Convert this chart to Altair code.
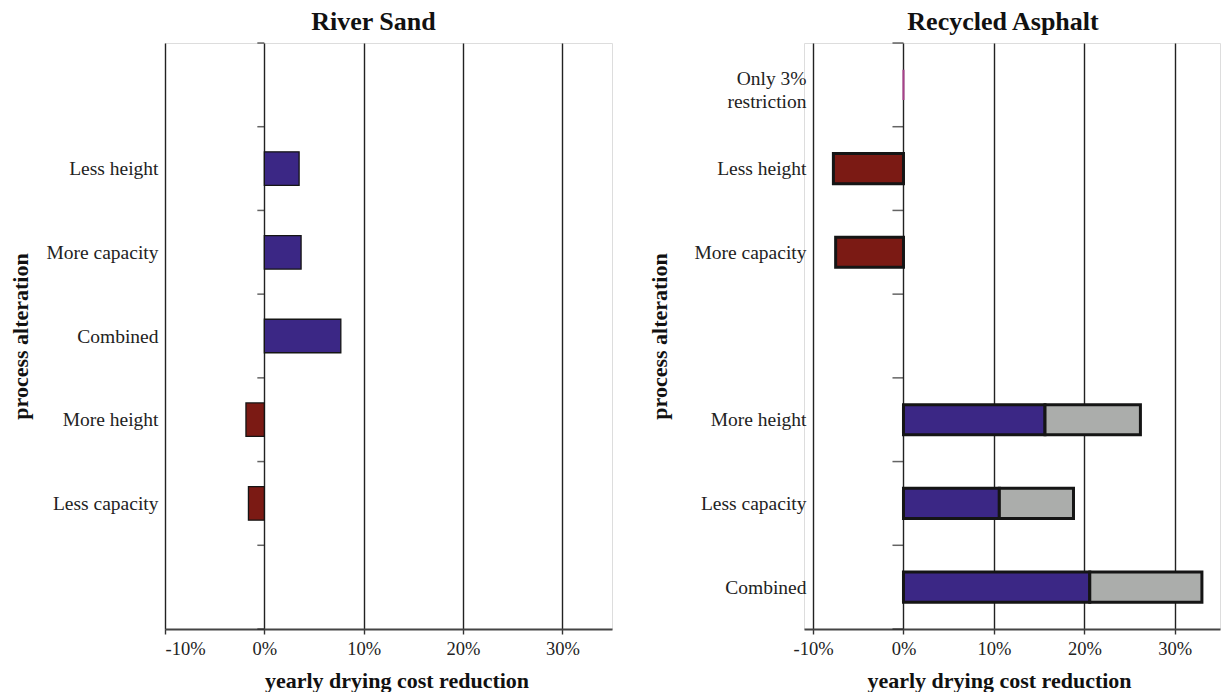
import altair as alt
import pandas as pd

FONT = "Liberation Serif"

# ---------------- data ----------------
x_ticks = [-10, 0, 10, 20, 30]
slot_bounds = [0, 1, 2, 3, 4, 5, 6, 7]

sand_labels = ["Less height", "More capacity", "Combined", "More height", "Less capacity"]
sand_slots = [1, 2, 3, 4, 5]
sand_values = [3.5, 3.7, 7.7, -1.85, -1.6]

asph_labels = ["Only 3%\nrestriction", "Less height", "More capacity",
               "More height", "Less capacity", "Combined"]
asph_slots = [0, 1, 2, 4, 5, 6]
asph_values = [0.0, -7.75, -7.5, 15.65, 10.6, 20.6]
asph_totals = [None, None, None, 26.2, 18.8, 33.0]

kinds = ["gain", "loss", "restriction", "none"]
fills = ["#3B2785", "#7B1A14", "#ABADAB", "#FFFFFF"]

MULTILINE_NUDGE = 0.08  # shift two-line labels up so the block is centred


def kind_of(v):
    if v > 0:
        return "gain"
    if v < 0:
        return "loss"
    return "none"


def bars_frame(slots, values, totals=None, half=0.2):
    rows = []
    for i, (s, v) in enumerate(zip(slots, values)):
        rows.append(dict(slot=s, start=min(0, v), end=max(0, v), kind=kind_of(v)))
        if totals is not None and totals[i] is not None:
            rows.append(dict(slot=s, start=v, end=totals[i], kind="restriction"))
    df = pd.DataFrame(rows)
    df["y0"] = df["slot"] + 0.5 - half
    df["y1"] = df["slot"] + 0.5 + half
    return df


def label_pos(lab, s):
    return round(s + 0.5 - (MULTILINE_NUDGE if "\n" in lab else 0), 4)


def label_expr(labels, slots):
    parts = []
    for lab, s in zip(labels, slots):
        lines = lab.split("\n")
        if len(lines) > 1:
            txt = "[" + ",".join("'" + l + "'" for l in lines) + "]"
        else:
            txt = "'" + lab + "'"
        parts.append(f"datum.value == {label_pos(lab, s)} ? {txt} : ")
    return "".join(parts) + "''"


def panel(title, labels, slots, df, domain, width, tick_len, stroke_w,
          title_dx, xtitle_dx, label_pad):
    yscale = alt.Scale(domain=[0, 7], reverse=True, nice=False, zero=False)
    xscale = alt.Scale(domain=domain, nice=False, zero=False)
    xaxis = alt.Axis(values=x_ticks, labelExpr="datum.value + '%'", grid=True,
                     gridColor="#222", gridWidth=1.4, domainColor="#444",
                     domainWidth=2, tickColor="#333", tickSize=5, tickWidth=1.4,
                     labelFontSize=18.5, labelFont=FONT, labelColor="#222",
                     labelPadding=5,
                     title="yearly drying cost reduction", titleFontSize=22,
                     titleFont=FONT, titleFontWeight="bold", titleColor="#111",
                     titlePadding=13, titleX=width / 2 + xtitle_dx)
    yaxis = alt.Axis(values=[label_pos(l, s) for l, s in zip(labels, slots)],
                     labelExpr=label_expr(labels, slots),
                     domain=False, ticks=False, grid=False,
                     labelFontSize=19.5, labelFont=FONT, labelColor="#222",
                     labelPadding=label_pad, labelLineHeight=23,
                     title="process alteration", titleFontSize=22,
                     titleFont=FONT, titleFontWeight="bold", titleColor="#111",
                     titleX=-145, titleBaseline="middle",
                     minExtent=156, maxExtent=156)

    main = df[df["kind"] != "none"]
    zero = df[df["kind"] == "none"]

    bars = alt.Chart(main).mark_rect(stroke="#151515", strokeWidth=stroke_w).encode(
        x=alt.X("start:Q", scale=xscale, axis=xaxis),
        x2="end:Q",
        y=alt.Y("y0:Q", scale=yscale, axis=yaxis),
        y2="y1:Q",
        color=alt.Color("kind:N", scale=alt.Scale(domain=kinds, range=fills),
                        legend=None),
    )
    layers = [bars]
    if len(zero):
        zbar = alt.Chart(zero).mark_rect(stroke="#A8408A", strokeWidth=2,
                                         fillOpacity=0).encode(
            x=alt.X("start:Q", scale=xscale, axis=xaxis),
            x2="end:Q",
            y=alt.Y("y0:Q", scale=yscale, axis=yaxis),
            y2="y1:Q",
        )
        layers.append(zbar)

    ticks = alt.Chart(pd.DataFrame({"b": slot_bounds})).mark_tick(
        orient="horizontal", size=tick_len, thickness=1.5, color="#222",
        xOffset=-tick_len / 2,
    ).encode(
        x=alt.datum(0, scale=xscale, axis=xaxis),
        y=alt.Y("b:Q", scale=yscale, axis=yaxis),
    )
    layers.append(ticks)

    return alt.layer(*layers).properties(
        width=width, height=586,
        title=alt.TitleParams(title, fontSize=26, font=FONT, fontWeight="bold",
                              color="#111", anchor="middle", offset=7,
                              dx=title_dx),
    )


left = panel("River Sand", sand_labels, sand_slots,
             bars_frame(sand_slots, sand_values, half=0.2),
             [-10, 35], 447, 7, 1.3, -15, 8, 7)
right = panel("Recycled Asphalt", asph_labels, asph_slots,
              bars_frame(asph_slots, asph_values, asph_totals, half=0.18),
              [-11, 35], 416, 11, 3, -9, -13, -2)

chart = alt.hconcat(left, right, spacing=34).properties(
    padding={"left": 0, "top": 0, "right": 0, "bottom": 0}
).configure_view(strokeWidth=0, stroke="transparent").configure(font=FONT)

chart.save("out.html", embed_options={"renderer": "svg", "actions": False})
